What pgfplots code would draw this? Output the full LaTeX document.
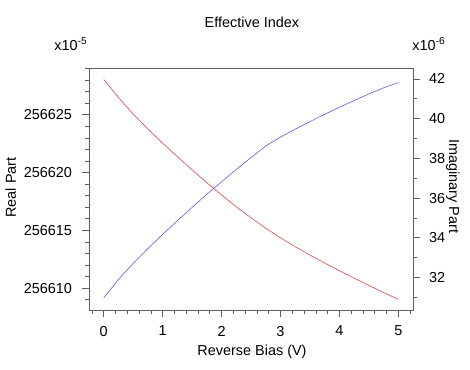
\documentclass[border=0pt]{standalone}
\usepackage{fontspec}
\setmainfont{Liberation Sans}
\usepackage{pgfplots}
\pgfplotsset{compat=1.18}
\definecolor{axgray}{RGB}{95,95,95}
\definecolor{lred}{RGB}{232,55,55}
\definecolor{lblue}{RGB}{80,80,228}
\begin{document}
\fontsize{14.5}{17}\selectfont
\begin{tikzpicture}
\useasboundingbox (-89bp,-60bp) rectangle (381bp,310bp);
\pgfplotsset{
  every axis/.append style={
    scale only axis, width=324bp, height=242bp,
    at={(0,0)}, anchor=south west,
    xmin=-0.25, xmax=5.25,
    clip mode=individual,
    /pgf/number format/assume math mode=true,
    tick align=outside,
    major tick length=7bp, minor tick length=4bp,
    every tick/.style={axgray, line width=0.6pt},
    axis line style={axgray, line width=0.6pt},
    tick label style={font=\fontsize{14.5}{17}\selectfont},
    label style={font=\fontsize{14.5}{17}\selectfont},
    title style={font=\fontsize{14.5}{17}\selectfont},
  }
}
\begin{axis}[
  xtick={0,1,2,3,4,5},
  xticklabels={0,1,2,3,4,5},
  minor xtick={-0.2,0.2,0.4,0.6,0.8,1.2,1.4,1.6,1.8,2.2,2.4,2.6,2.8,3.2,3.4,3.6,3.8,4.2,4.4,4.6,4.8,5.2},
  xtick pos=bottom,
  ymin=256608.1, ymax=256629.05,
  scaled y ticks=false,
  ytick={256610,256615,256620,256625},
  yticklabels={256610,256615,256620,256625},
  minor ytick={256609,256611,256612,256613,256614,256616,256617,256618,256619,256621,256622,256623,256624,256626,256627,256628,256629},
  ytick pos=left,
  xticklabel style={yshift=-4bp},
  yticklabel style={xshift=-5bp},
  title={Effective Index},
  title style={at={(0.503,1.189)}, anchor=center, yshift=-6pt},
  xlabel={Reverse Bias (V)},
  xlabel style={at={(0.503,-0.174)}, anchor=center},
  ylabel={Real Part},
  ylabel style={at={(-0.242,0.506)}, anchor=center},
]
\addplot[lred, line width=0.55pt] coordinates {
(0,256628.06) (0.25,256626.49) (0.5,256625.06) (0.75,256623.76)
(1.0,256622.54) (1.25,256621.37) (1.5,256620.23) (1.75,256619.12)
(2.0,256618.05) (2.25,256617.03) (2.5,256616.08) (2.75,256615.18)
(3.0,256614.35) (3.25,256613.58) (3.5,256612.85) (3.75,256612.17)
(4.0,256611.50) (4.25,256610.86) (4.5,256610.23) (4.75,256609.61)
(5.0,256609.02)
};
\node[anchor=center] at (axis description cs:-0.056,1.099) {x10\textsuperscript{-5}};
\node[anchor=center] at (axis description cs:1.049,1.099) {x10\textsuperscript{-6}};
\end{axis}
\begin{axis}[
  axis x line=none,
  axis y line*=right,
  ymin=30.36, ymax=42.55,
  ytick={32,34,36,38,40,42},
  yticklabels={32,34,36,38,40,42},
  minor ytick={31,33,35,37,39,41},
  yticklabel style={xshift=4bp},
  ylabel={Imaginary Part},
  ylabel style={at={(1.123,0.512)}, anchor=center, rotate=180},
]
\addplot[lblue, line width=0.55pt] coordinates {
(0,30.97) (0.25,31.90) (0.5,32.71) (0.75,33.46) (1.0,34.17)
(1.25,34.86) (1.5,35.53) (1.75,36.19) (2.0,36.82) (2.25,37.44)
(2.5,38.04) (2.75,38.62) (3.0,39.07) (3.25,39.47) (3.5,39.85)
(3.75,40.22) (4.0,40.57) (4.25,40.91) (4.5,41.24) (4.75,41.55)
(5.0,41.82)
};
\end{axis}
\end{tikzpicture}
\end{document}
